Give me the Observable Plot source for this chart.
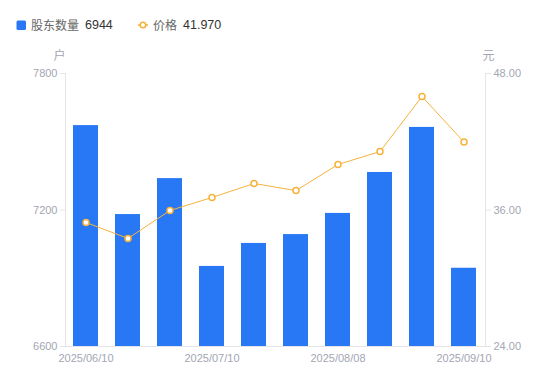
<!DOCTYPE html>
<html>
<head>
<meta charset="utf-8">
<script src="https://cdn.jsdelivr.net/npm/d3@7"></script>
<script src="https://cdn.jsdelivr.net/npm/@observablehq/plot@0.6"></script>
<style>
  body { margin: 0; background: #fff; font-family: "Liberation Sans", Arial, "Noto Sans CJK SC", sans-serif; }
  #legend { position: relative; height: 38px; font-size: 12px; }
  #legend span { position: absolute; top: 17px; line-height: 16px; white-space: nowrap; }
  .name { color: #666; font-family: "Noto Sans CJK SC", sans-serif; }
  .val { color: #333; font-size: 12.5px; }
</style>
</head>
<body>
<div id="legend"></div>
<div id="chart"></div>
<script>
// Data
const periods = [1, 2, 3, 4, 5, 6, 7, 8, 9, 10];
const holders = [7571, 7180, 7338, 6952, 7053, 7092, 7185, 7365, 7563, 6944];
const prices = [34.90, 33.50, 35.96, 37.10, 38.33, 37.71, 40.00, 41.14, 45.98, 41.97];
const xTickLabels = {1: "2025/06/10", 4: "2025/07/10", 7: "2025/08/08", 10: "2025/09/10"};
const leftTicks = [6600, 7200, 7800];
const rightTicks = [24, 36, 48];

const blue = "#2878F5";
const orange = "#F7B23B";
const gray = "#A3A6B4";
const axisLine = "#E3E5EA";

const yMin = 6600, yMax = 7800;
const priceToY = d3.scaleLinear([24, 48], [yMin, yMax]);
const yToPrice = priceToY.invert;

const data = periods.map((p, i) => ({p, holders: holders[i], price: prices[i], py: priceToY(prices[i])}));

// Legend
const legend = document.getElementById("legend");
legend.innerHTML = `
  <svg width="550" height="38" style="position:absolute;left:0;top:0">
    <rect x="16.5" y="20.5" width="9.5" height="9.5" rx="1.5" fill="${blue}"/>
    <line x1="138" x2="148" y1="25" y2="25" stroke="${orange}" stroke-width="1.5"/>
    <circle cx="143" cy="25" r="2.8" fill="#fff" stroke="${orange}" stroke-width="1.6"/>
  </svg>
  <span class="name" style="left:31px">股东数量</span>
  <span class="val" style="left:85px">${holders[holders.length - 1]}</span>
  <span class="name" style="left:153px">价格</span>
  <span class="val" style="left:183px">${prices[prices.length - 1].toFixed(3)}</span>
`;

const chart = Plot.plot({
  width: 550,
  height: 343,
  marginTop: 35,
  marginBottom: 35,
  marginLeft: 65,
  marginRight: 65,
  style: {fontFamily: "'Liberation Sans', Arial, sans-serif", fontSize: "11px", color: gray, background: "#fff"},
  x: {type: "band", domain: periods, paddingInner: 0.4, paddingOuter: 0.2},
  y: {domain: [yMin, yMax]},
  marks: [
    Plot.barY(data, {x: "p", y1: yMin, y2: "holders", fill: blue}),
    Plot.frame({anchor: "left", stroke: axisLine}),
    Plot.frame({anchor: "right", stroke: axisLine}),
    Plot.axisY(leftTicks, {anchor: "left", tickSize: 5, tickPadding: 3, stroke: axisLine, fill: gray, label: null, tickFormat: d => String(d)}),
    Plot.axisY(rightTicks.map(priceToY), {anchor: "right", tickSize: 5, tickPadding: 3, stroke: axisLine, fill: gray, label: null, tickFormat: d => yToPrice(d).toFixed(2)}),
    Plot.ruleY([yMin], {stroke: axisLine}),
    Plot.line(data, {x: "p", y: "py", stroke: orange, strokeWidth: 1, curve: "linear"}),
    Plot.dot(data, {x: "p", y: "py", r: 3, fill: "#fff", stroke: orange, strokeWidth: 1.5}),
    Plot.axisX(Object.keys(xTickLabels).map(Number), {tickSize: 0, tickPadding: 8, fill: gray, label: null, tickFormat: d => xTickLabels[d]}),
    Plot.text(["户"], {frameAnchor: "top-left", dx: -12, dy: -22, fill: gray, fontSize: 12, fontFamily: "'Noto Sans CJK SC', sans-serif"}),
    Plot.text(["元"], {frameAnchor: "top-right", dx: 9, dy: -22, fill: gray, fontSize: 12, fontFamily: "'Noto Sans CJK SC', sans-serif"})
  ]
});
document.getElementById("chart").append(chart);
</script>
</body>
</html>
